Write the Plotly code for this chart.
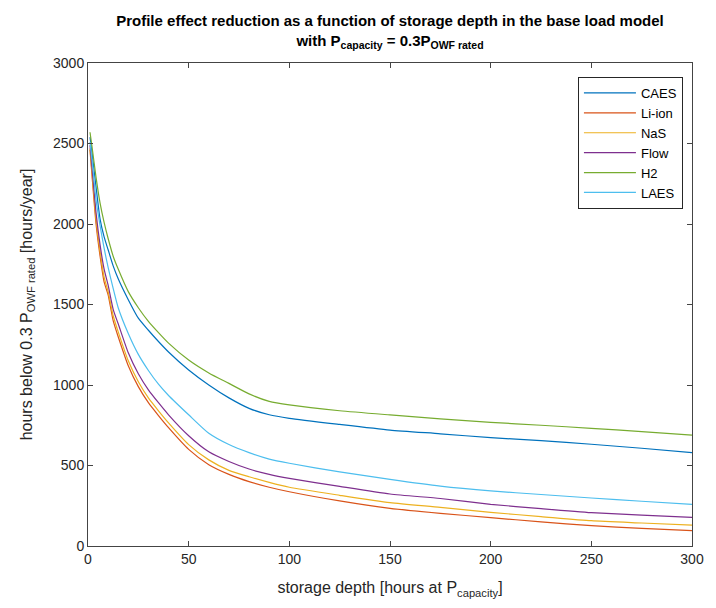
import plotly.graph_objects as go

depth = [1, 2, 4, 6, 8, 10, 12.5, 15, 20, 25, 30, 35, 40, 50, 60, 70, 80, 90, 100,
         125, 150, 175, 200, 225, 250, 275, 300]

caes = [2540, 2440, 2230, 2030, 1920, 1840, 1740, 1660, 1530, 1415, 1340, 1270, 1205,
        1093, 1000, 920, 855, 815, 793, 755, 720, 697, 673, 654, 632, 607, 580]
liion = [2460, 2300, 2000, 1800, 1640, 1560, 1400, 1300, 1120, 990, 890, 810, 735,
         600, 505, 445, 400, 365, 337, 280, 234, 203, 176, 150, 126, 110, 95]
nas = [2470, 2320, 2030, 1830, 1670, 1580, 1430, 1330, 1150, 1020, 920, 840, 765,
       630, 535, 470, 430, 395, 365, 315, 269, 240, 209, 183, 157, 143, 130]
flow = [2490, 2350, 2070, 1870, 1720, 1620, 1470, 1380, 1200, 1070, 970, 890, 815,
        685, 585, 525, 478, 445, 420, 370, 323, 295, 259, 232, 207, 192, 178]
h2 = [2570, 2480, 2290, 2130, 2010, 1910, 1800, 1720, 1580, 1480, 1395, 1325, 1260,
      1155, 1075, 1010, 945, 898, 876, 840, 814, 790, 768, 750, 731, 711, 689]
laes = [2510, 2400, 2150, 1990, 1850, 1730, 1600, 1480, 1320, 1190, 1090, 1005, 935,
        815, 700, 630, 580, 540, 514, 460, 414, 372, 342, 320, 298, 278, 259]

names = ["CAES", "Li-ion", "NaS", "Flow", "H2", "LAES"]
series = [caes, liion, nas, flow, h2, laes]
colors = ["#0072BD", "#D95319", "#EDB120", "#7E2F8E", "#77AC30", "#4DBEEE"]

fig = go.Figure()
for n, s, c in zip(names, series, colors):
    fig.add_trace(go.Scatter(x=depth, y=s, mode="lines", name=n,
                             line=dict(color=c, width=1.2, shape="spline", smoothing=0.6)))

font = "Liberation Sans, Arial, sans-serif"
axis_common = dict(showgrid=False, zeroline=False, showline=True, linecolor="#444",
                   linewidth=1, mirror="ticks", ticks="inside", ticklen=5,
                   tickcolor="#444", tickfont=dict(size=14, color="#262626", family=font))

fig.update_layout(
    width=716, height=608,
    margin=dict(l=88, r=15, t=63, b=62),
    plot_bgcolor="white", paper_bgcolor="white",
    font=dict(family=font, color="#262626"),
    title=dict(
        text="<b>Profile effect reduction as a function of storage depth in the base load model</b><br>"
             "<b>with P<sub>capacity</sub> = 0.3P<sub>OWF rated</sub></b>",
        x=0.5, xref="paper", xanchor="center", y=0.957, yanchor="middle",
        font=dict(size=15, color="black", family=font)),
    xaxis=dict(range=[0, 300], tickvals=[0, 50, 100, 150, 200, 250, 300],
               title=dict(text="storage depth [hours at P<sub>capacity</sub>]",
                          font=dict(size=16, family=font), standoff=16),
               **axis_common),
    yaxis=dict(range=[0, 3000], tickvals=[0, 500, 1000, 1500, 2000, 2500, 3000],
               title=dict(text="hours below 0.3 P<sub>OWF rated</sub> [hours/year]",
                          font=dict(size=16, family=font), standoff=16),
               **axis_common),
    legend=dict(x=0.985, y=0.971, xanchor="right", yanchor="top",
                bordercolor="#262626", borderwidth=1, bgcolor="white",
                font=dict(size=13, family=font, color="black"),
                itemwidth=52, tracegroupgap=0),
    showlegend=True,
)

fig.write_html("out.html")
